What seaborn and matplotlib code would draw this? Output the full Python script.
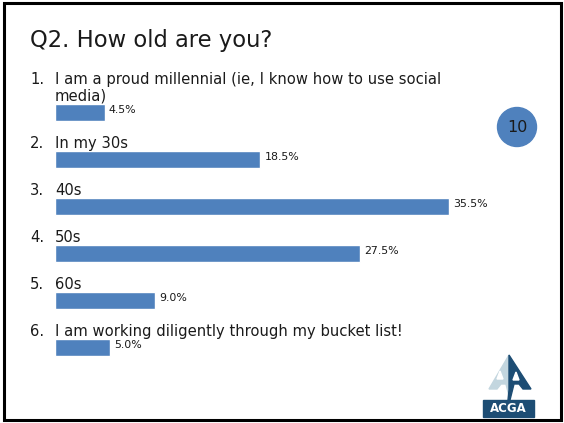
import matplotlib
matplotlib.use("Agg")
import matplotlib.pyplot as plt
import matplotlib.patches as mpatches
import seaborn as sns
import pandas as pd

# Survey responses
numbers = ["1.", "2.", "3.", "4.", "5.", "6."]
answers = [
    "I am a proud millennial (ie, I know how to use social\nmedia)",
    "In my 30s",
    "40s",
    "50s",
    "60s",
    "I am working diligently through my bucket list!",
]
shares = [4.5, 18.5, 35.5, 27.5, 9.0, 5.0]
value_labels = ["4.5%", "18.5%", "35.5%", "27.5%", "9.0%", "5.0%"]
title = "Q2. How old are you?"
responses = "10"

sns.set_theme(style="white")
plt.rcParams["font.family"] = ["DejaVu Sans"]

W, H = 564, 423
fig = plt.figure(figsize=(W / 100, H / 100), dpi=100)
fig.patch.set_facecolor("white")

BLUE = "#4F81BD"
TEXT = "#1a1a1a"

# Bar axes spans the whole slide; limits place the bars on the slide
ax = fig.add_axes([0, 0, 1, 1])
df = pd.DataFrame({"answer": answers, "share": shares})
sns.barplot(data=df, x="share", y="answer", orient="h", color=BLUE,
            saturation=1, width=0.36, ax=ax)
px_per_unit = 11.1
x0_px = 55
ax.set_xlim(-x0_px / px_per_unit, (W - x0_px) / px_per_unit)
row_px = 47.0
first_px = 112.5
ax.set_ylim((H - first_px) / row_px, -first_px / row_px)
ax.axis("off")

for i, (num, ans, val, lab) in enumerate(zip(numbers, answers, shares, value_labels)):
    lines = ans.split("\n")
    base = i - 0.245
    for j, line in enumerate(reversed(lines)):
        ax.text(0, base - j * 17 / row_px, line, fontsize=10.6, color=TEXT,
                va="baseline", ha="left")
    ax.text(-25 / px_per_unit, base - (len(lines) - 1) * 17 / row_px, num,
            fontsize=10.6, color=TEXT, va="baseline", ha="left")
    ax.text(val + 4 / px_per_unit, i - 0.05, lab, fontsize=7.9, color=TEXT,
            va="center", ha="left")

# Decorations in pixel coordinates
ov = fig.add_axes([0, 0, 1, 1], facecolor="none")
ov.set_xlim(0, W)
ov.set_ylim(H, 0)
ov.axis("off")

ov.add_patch(mpatches.Rectangle((4, 3), 557, 417, fill=False,
                                edgecolor="black", linewidth=2.2))
ov.text(30, 47, title, fontsize=16.3, color=TEXT, va="baseline", ha="left")

ov.add_patch(mpatches.Circle((517, 127), 19.5, color=BLUE))
ov.text(517, 128, responses, fontsize=11.5, color=TEXT, ha="center", va="center")

# ACGA logo: two-tone pyramid above a name plate
LIGHT = "#C3D6DF"
DARK = "#1D4D74"
ov.add_patch(mpatches.Polygon([(509, 355), (489, 389), (497, 389), (501, 384),
                               (506, 384), (509, 396)], color=LIGHT))
ov.add_patch(mpatches.Polygon([(509, 355), (531, 389), (523, 389), (519, 384),
                               (514, 384), (510, 400), (508, 400), (509, 390)],
                              color=DARK))
ov.add_patch(mpatches.Polygon([(500, 371), (497, 379), (503, 379)], color="white"))
ov.add_patch(mpatches.Polygon([(516, 372), (513, 380), (519, 380)], color="white"))
ov.add_patch(mpatches.Rectangle((483, 400), 51, 17, color=DARK))
ov.text(508.5, 409, "ACGA", fontsize=8.5, fontweight="bold", color="white",
        ha="center", va="center")

fig.savefig("out.png", dpi=100)
